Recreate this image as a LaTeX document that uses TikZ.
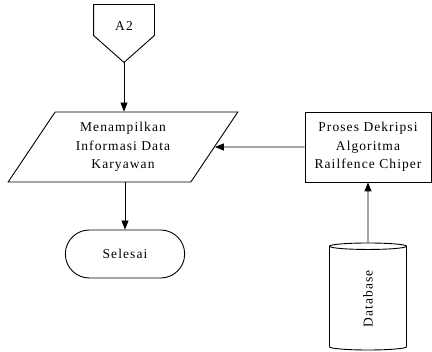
\documentclass[tikz,border=0pt]{standalone}
\usepackage{fontspec}
\setmainfont{Liberation Serif}[LetterSpace=8]
\usepackage{tikz}
\usetikzlibrary{shapes,positioning,arrows.meta}
\tikzset{io/.style={trapezium,trapezium left angle=58,trapezium right angle=122,trapezium stretches=true,draw,minimum width=230pt,minimum height=70pt,align=center}}
\tikzset{rec/.style={rectangle,draw,minimum width=126pt,minimum height=70pt,align=center}}
\tikzset{term/.style={rounded rectangle,draw,minimum width=126pt,minimum height=48pt}}
\tikzset{db/.style={cylinder,draw,rotate=90,minimum width=77pt,minimum height=107pt,aspect=0.4}}
\tikzset{offpage/.style={rectangle,minimum width=60pt,minimum height=30pt,text height=21pt,text depth=0pt}}

\begin{document}
\begin{tikzpicture}[>={Triangle[length=9pt,width=7pt]},x=1pt,y=-1pt,line width=0.9pt,font=\fontsize{13.5}{18.5}\selectfont]
        \useasboundingbox (0,0) rectangle (432,352);
        \node[offpage] (a2) at (124,20) {A2};
        \coordinate[below=27pt of a2.south] (a2tip);
        \draw (a2.north west) -- (a2.north east) -- (a2.south east) -- (a2tip) -- (a2.south west) -- cycle;
        \node[io] (tampil) at (123,147) {Menampilkan\\Informasi Data\\Karyawan};
        \node[rec] (dekrip) at (368,147) {Proses Dekripsi\\Algoritma\\Railfence Chiper};
        \node[term] (selesai) at (125,254) {Selesai};
        \node[db] (database) at (368,299) {Database};

        \draw [->] (a2tip) to (a2tip |- tampil.north);
        \draw [->] (selesai.north |- tampil.south) to (selesai.north);
        \draw [->] (dekrip.west) to (tampil.east);
        \draw [->] (database) to (dekrip);
    \end{tikzpicture}
\end{document}
